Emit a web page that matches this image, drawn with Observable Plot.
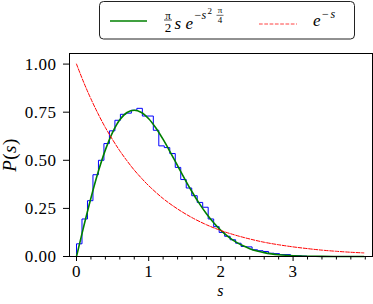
<!DOCTYPE html>
<html>
<head>
<meta charset="utf-8">
<script src="https://cdn.jsdelivr.net/npm/d3@7"></script>
<script src="https://cdn.jsdelivr.net/npm/@observablehq/plot@0.6"></script>
<style>
  html, body { margin: 0; padding: 0; background: white; }
  #wrap { position: relative; width: 373px; height: 304px; }
  #legend { position: absolute; left: 0; top: 0; }
  .m { font-family: 'Liberation Serif', serif; }
</style>
</head>
<body>
<div id="wrap"><div id="chart"></div></div>
<script>
// Histogram (level-spacing distribution), bin width and heights
const binWidth = 0.076;
const histValues = [0.066, 0.195, 0.29, 0.425, 0.50, 0.587, 0.653, 0.708, 0.739, 0.745,
  0.76, 0.77, 0.73, 0.73, 0.656, 0.575, 0.566, 0.535, 0.463, 0.40,
  0.356, 0.316, 0.281, 0.256, 0.195, 0.155, 0.125, 0.105, 0.087, 0.069,
  0.052, 0.05, 0.035, 0.03, 0.026, 0.017, 0.015, 0.01, 0.01, 0.005,
  0.004, 0.002];

// Wigner surmise curve (green)
const wignerS = [0, 0.1, 0.2, 0.3, 0.4, 0.5, 0.6, 0.7, 0.8, 0.9, 1.0, 1.1, 1.2, 1.3, 1.4, 1.5,
  1.6, 1.7, 1.8, 1.9, 2.0, 2.1, 2.2, 2.3, 2.4, 2.5, 2.6, 2.7, 2.8, 2.9, 3.0, 3.2, 3.4, 3.6, 3.8, 3.98];
const wignerP = [0, 0.1559, 0.3044, 0.4391, 0.5541, 0.6454, 0.7104, 0.7483, 0.7602, 0.7483,
  0.7162, 0.6680, 0.6083, 0.5415, 0.4718, 0.4025, 0.3365, 0.2759, 0.2219, 0.1752,
  0.1358, 0.1033, 0.0772, 0.0567, 0.0409, 0.0290, 0.0202, 0.0138, 0.0093, 0.0062,
  0.0040, 0.0016, 0.0006, 0.0002, 0.0001, 0.0];

// Poisson curve e^{-s} (red dashed)
const expS = [0, 0.1, 0.2, 0.3, 0.4, 0.5, 0.6, 0.7, 0.8, 0.9, 1.0, 1.2, 1.4, 1.6, 1.8, 2.0,
  2.2, 2.4, 2.6, 2.8, 3.0, 3.2, 3.4, 3.6, 3.8, 3.98];
const expP = [1, 0.905, 0.819, 0.741, 0.670, 0.607, 0.549, 0.497, 0.449, 0.407, 0.368,
  0.301, 0.247, 0.202, 0.165, 0.135, 0.111, 0.091, 0.074, 0.061, 0.050, 0.041, 0.033,
  0.027, 0.022, 0.0187];

// Axis ticks
const xMajorTicks = [0, 1, 2, 3];
const xMinorTicks = [0.2, 0.4, 0.6, 0.8, 1.2, 1.4, 1.6, 1.8, 2.2, 2.4, 2.6, 2.8, 3.2, 3.4, 3.6, 3.8, 4.0];
const yTicks = [0, 0.25, 0.5, 0.75, 1.0];

// Build step outline of histogram
const histPts = [{s: 0, p: 0}];
histValues.forEach((v, i) => histPts.push({s: i * binWidth, p: v}));
histPts.push({s: histValues.length * binWidth, p: 0});
const wigner = wignerS.map((s, i) => ({s, p: wignerP[i]}));
const expo = expS.map((s, i) => ({s, p: expP[i]}));

const plot = Plot.plot({
  width: 373, height: 304,
  marginLeft: 69, marginRight: 1, marginTop: 53, marginBottom: 48,
  x: {domain: [-0.097, 4.1]},
  y: {domain: [0, 1.055]},
  style: {fontFamily: "'Liberation Serif', serif", fontSize: "17px", background: "white", color: "black", letterSpacing: "0.5px"},
  marks: [
    Plot.line(histPts, {x: "s", y: "p", curve: "step-after", stroke: "blue", strokeWidth: 1}),
    Plot.line(wigner, {x: "s", y: "p", curve: "catmull-rom", stroke: "green", strokeWidth: 1.6}),
    Plot.line(expo, {x: "s", y: "p", curve: "catmull-rom", stroke: "red", strokeWidth: 1, strokeDasharray: "3.7,1.6"}),
    Plot.frame({stroke: "black", strokeWidth: 1}),
    Plot.axisX({ticks: xMajorTicks, tickSize: 5, tickPadding: 3, label: null, tickFormat: d => String(d)}),
    Plot.axisX({ticks: xMinorTicks, tickSize: 3.5, label: null, tickFormat: () => ""}),
    Plot.axisY({ticks: yTicks, tickSize: 6, tickPadding: 7, label: null, tickFormat: d3.format(".2f")})
  ]
});
document.getElementById("chart").appendChild(plot);

// Axis labels with math styling
const svg = d3.select(plot);
svg.append("text").attr("class", "m").attr("x", 220.5).attr("y", 295.5)
  .attr("text-anchor", "middle").attr("font-size", 16).attr("font-style", "italic").text("s");
const yl = svg.append("text").attr("class", "m")
  .attr("transform", "translate(16,155) rotate(-90)")
  .attr("text-anchor", "middle").attr("font-size", 19);
yl.append("tspan").attr("font-style", "italic").text("P");
yl.append("tspan").text("(");
yl.append("tspan").attr("font-style", "italic").text("s");
yl.append("tspan").text(")");

// Legend
const lg = d3.select("#wrap").append("svg").attr("id", "legend")
  .attr("width", 373).attr("height", 45);
lg.append("rect").attr("x", 99.5).attr("y", 1.5).attr("width", 255).attr("height", 37.5)
  .attr("rx", 4).attr("fill", "white").attr("stroke", "#222").attr("stroke-width", 1);
lg.append("line").attr("x1", 110).attr("x2", 147).attr("y1", 21).attr("y2", 21)
  .attr("stroke", "green").attr("stroke-width", 1.6);
lg.append("line").attr("x1", 259).attr("x2", 297).attr("y1", 24).attr("y2", 24)
  .attr("stroke", "#ff4040").attr("stroke-width", 1).attr("stroke-dasharray", "3.7,1.6");
const T = (x, y, size, txt, italic, anchor) => lg.append("text").attr("class", "m")
  .attr("x", x).attr("y", y).attr("font-size", size)
  .attr("font-style", italic ? "italic" : "normal")
  .attr("text-anchor", anchor || "start").text(txt);
// π/2 s e^{-s^2 π/4}
T(168, 18.5, 11, "π", false, "middle");
lg.append("line").attr("x1", 164).attr("x2", 172).attr("y1", 20).attr("y2", 20).attr("stroke", "black").attr("stroke-width", 0.7);
T(168, 31.5, 13, "2", false, "middle");
T(174.5, 28.5, 17, "s", true);
T(185.5, 28.5, 17, "e", true);
T(194.5, 18.5, 12, "−", false);
T(201.5, 18.5, 12, "s", true);
T(207.5, 13.5, 9, "2", false);
T(220, 13, 9, "π", false, "middle");
lg.append("line").attr("x1", 216.5).attr("x2", 223.5).attr("y1", 15.3).attr("y2", 15.3).attr("stroke", "black").attr("stroke-width", 0.6);
T(220, 23, 9, "4", false, "middle");
// e^{-s}
T(313, 26, 17, "e", true);
T(322, 17.5, 12, "−", false);
T(330.5, 17.5, 12, "s", true);
</script>
</body>
</html>
